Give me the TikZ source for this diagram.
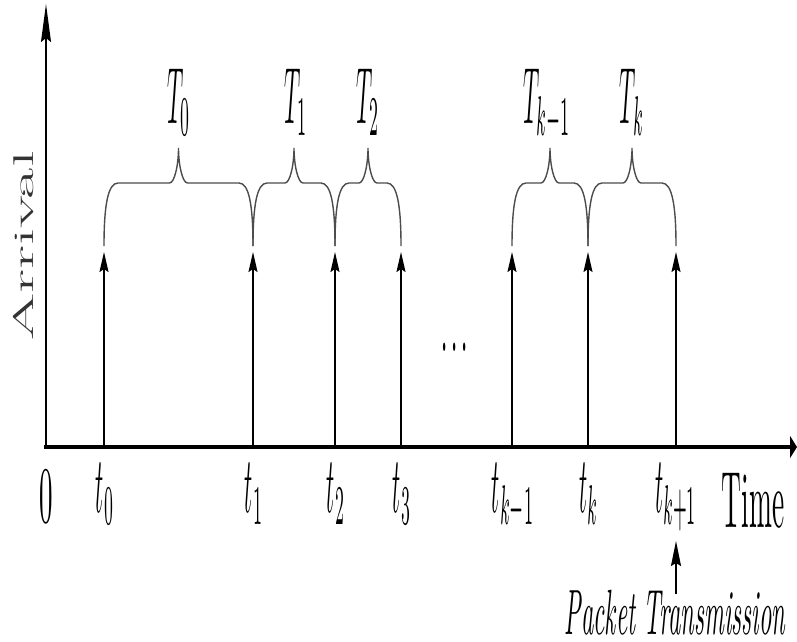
\documentclass[tikz,border=0pt]{standalone}
\usetikzlibrary{arrows.meta}
\begin{document}
\begin{tikzpicture}[x=1pt,y=-1pt,
  lab/.style={inner sep=0pt, font=\fontsize{10}{10}\selectfont, xscale=2.25, yscale=8},
  arr/.style={line width=1.6pt, -{Stealth[length=20pt,width=9pt,inset=3pt]}},
  brc/.style={line width=1.4pt, black!70},
  axis/.style={line width=3.5pt}]
\useasboundingbox (0,0) rectangle (797,641);
% axes
\coordinate (O) at (46,447);
\coordinate (Ytop) at (46,4);
\coordinate (Xend) at (797,447);
\draw[line width=1.8pt, -{Stealth[length=38pt,width=10pt,inset=4pt]}] (46,449) -- (Ytop);
\draw[axis, -{Stealth[length=7pt,width=22pt,inset=0pt]}] (44,447) -- (Xend);
% arrival arrows
\foreach \n/\x in {a0/104,a1/253,a2/335,a3/401,a4/512,a5/588,a6/676}{
  \coordinate (\n b) at (\x,446);
  \coordinate (\n t) at (\x,252);
  \draw[arr] (\n b) -- (\n t);
}
% braces
\newcommand{\mybrace}[2]{%
  \pgfmathsetmacro{\xm}{(#1+#2)/2}
  \draw[brc] (#1,246) .. controls (#1,205) and (#1+4,183) .. (#1+14,183)
    -- (\xm-9,183) .. controls (\xm-4,183) and (\xm,165) .. (\xm,148)
    .. controls (\xm,165) and (\xm+4,183) .. (\xm+9,183)
    -- (#2-14,183) .. controls (#2-4,183) and (#2,205) .. (#2,246);}
\mybrace{104}{253}
\mybrace{253}{335}
\mybrace{335}{401}
\mybrace{512}{588}
\mybrace{588}{676}
% T labels
\node[lab, anchor=base] (T0) at (179,123) {$T_0$};
\node[lab, anchor=base] (T1) at (296,123) {$T_1$};
\node[lab, anchor=base] (T2) at (368,123) {$T_2$};
\node[lab, anchor=base] (Tk1) at (547,123) {$T_{k-1}$};
\node[lab, anchor=base] (Tk) at (632,123) {$T_k$};
% dots
\node[lab, anchor=base] (dots) at (455,351) {$\ldots$};
% t labels
\node[lab, anchor=base, xscale=1.2] (zero) at (46,522) {0};
\node[lab, anchor=base] (t0) at (105,512) {$t_0$};
\node[lab, anchor=base] (t1) at (254,512) {$t_1$};
\node[lab, anchor=base] (t2) at (336,512) {$t_2$};
\node[lab, anchor=base] (t3) at (402,512) {$t_3$};
\node[lab, anchor=base] (tk1) at (513,512) {$t_{k-1}$};
\node[lab, anchor=base] (tk) at (589,512) {$t_k$};
\node[lab, anchor=base] (tk2) at (676,512) {$t_{k+1}$};
\node[lab, anchor=base, xscale=1.22] (time) at (753,527) {Time};
% packet transmission
\node[lab, anchor=base, text depth=0pt, font=\fontsize{10}{10}\selectfont\itshape, xscale=1.08, yscale=0.8] (pt) at (675,634) {Packet Transmission};
\coordinate (ptop) at (676,541);
\draw[line width=1.6pt, -{Stealth[length=25pt,width=10pt,inset=3pt]}] (676,594) -- (ptop);
% Arrival
\node[inner sep=0pt, font=\fontsize{68}{68}\selectfont, text=black!80, rotate=90] (arrival) at (24,246) {\scalebox{1}[0.42]{Arrival}};
\end{tikzpicture}
\end{document}
